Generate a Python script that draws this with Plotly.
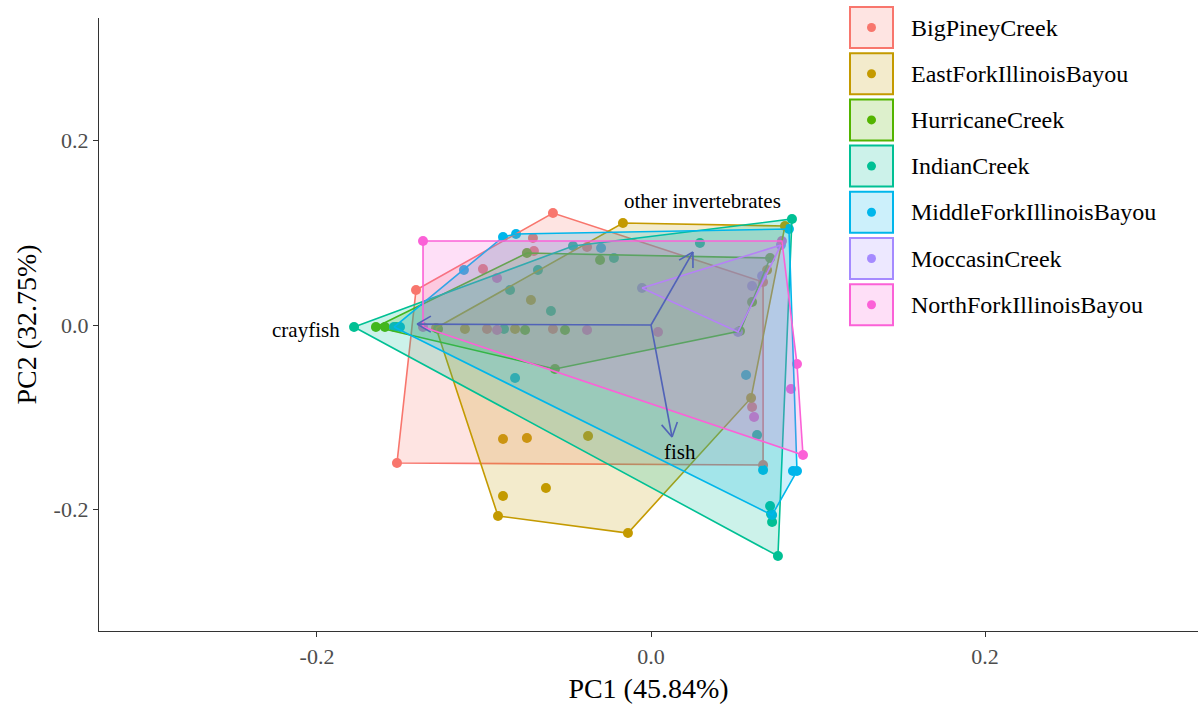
import math
import plotly.graph_objects as go

# ---------------- data ----------------
groups = ["BigPineyCreek", "EastForkIllinoisBayou", "HurricaneCreek", "IndianCreek",
          "MiddleForkIllinoisBayou", "MoccasinCreek", "NorthForkIllinoisBayou"]
colors = ["#F8766D", "#C49A00", "#53B400", "#00C094", "#00B6EB", "#A58AFF", "#FB61D7"]

bigpiney_x = [-0.0587, -0.1407, -0.1521, 0.0671, 0.0671, -0.1006, -0.0701, -0.0707, -0.0982, -0.0587, 0.0605, -0.0383]
bigpiney_y = [0.1214, 0.0379, -0.1496, -0.1518, 0.0466, 0.0607, 0.0802, 0.0943, -0.0043, -0.0043, -0.0889, 0.0846]

eastfork_x = [-0.1287, -0.0168, 0.0802, 0.0599, -0.0138, -0.0916, -0.0886, -0.0629, -0.0886, -0.0743, -0.0377, -0.0719, -0.1114, -0.0814, 0.0695]
eastfork_y = [-0.0033, 0.1106, 0.1073, -0.0791, -0.2255, -0.2070, -0.1854, -0.1767, -0.1236, -0.1225, -0.1203, 0.0271, -0.0043, -0.0043, 0.0596]

hurricane_x = [-0.1647, -0.0743, 0.0713, 0.0605, 0.0533, -0.0575, -0.1593, -0.1275, -0.0515, -0.0754, -0.0305]
hurricane_y = [-0.0022, 0.0780, 0.0726, 0.0249, -0.0065, -0.0477, -0.0022, -0.0043, -0.0054, -0.0054, 0.0705]

indian_x = [-0.1778, -0.0467, 0.0844, 0.0760, 0.0713, 0.0719, 0.0725, 0.0293, -0.0599, -0.0844, -0.0677, -0.0222, 0.0635, -0.1527, -0.0880]
indian_y = [-0.0022, 0.0856, 0.1149, -0.2504, -0.1962, -0.2049, -0.2136, 0.0889, 0.0152, 0.0379, 0.0596, 0.0726, -0.1192, -0.0022, -0.0043]

middlefork_x = [-0.1539, -0.1120, -0.0886, -0.0808, 0.0826, 0.0874, 0.0725, 0.0850, 0.0671, -0.0814, 0.0569, -0.0299, -0.1503]
middlefork_y = [-0.0022, 0.0596, 0.0954, 0.0986, 0.1041, -0.1583, -0.2060, -0.1583, -0.1572, -0.0575, -0.0542, 0.0835, -0.0022]

moccasin_x = [-0.0054, 0.0521, 0.0778, 0.0665, 0.0605]
moccasin_y = [0.0401, -0.0076, 0.0867, 0.0531, 0.0423]

northfork_x = [-0.1365, -0.1365, 0.0784, 0.0874, 0.0838, 0.0910, 0.0617, 0.0042, -0.0922, -0.0922, -0.0383]
northfork_y = [0.0911, -0.0022, 0.0911, -0.0423, -0.0694, -0.1409, -0.0997, -0.0076, 0.0509, -0.0054, -0.0054]

group_x = [bigpiney_x, eastfork_x, hurricane_x, indian_x, middlefork_x, moccasin_x, northfork_x]
group_y = [bigpiney_y, eastfork_y, hurricane_y, indian_y, middlefork_y, moccasin_y, northfork_y]

loading_names = ["crayfish", "fish", "other invertebrates"]
loading_x = [-0.1401, 0.0126, 0.0251]
loading_y = [0.0010, -0.1214, 0.0791]
label_x = [-0.2066, 0.0174, 0.0311]
label_y = [-0.0054, -0.1377, 0.1344]

x_title = "PC1 (45.84%)"
y_title = "PC2 (32.75%)"
tick_vals = [-0.2, 0.0, 0.2]
tick_text = ["-0.2", "0.0", "0.2"]

# ---------------- layout constants ----------------
W, H = 1198, 713
ML, MR, MT, MB = 99, 0, 18, 82
X_RANGE = [-0.3305, 0.3275]
Y_RANGE = [-0.3317, 0.3328]
SERIF = "Liberation Serif, Times New Roman, serif"
ARROW_COLOR = "#5163B8"


def rgba(hexc, a):
    h = hexc.lstrip("#")
    r, g, b = int(h[0:2], 16), int(h[2:4], 16), int(h[4:6], 16)
    return f"rgba({r},{g},{b},{a})"


def convex_hull(xs, ys):
    pts = sorted(set(zip(xs, ys)))
    if len(pts) <= 2:
        return pts

    def cross(o, a, b):
        return (a[0] - o[0]) * (b[1] - o[1]) - (a[1] - o[1]) * (b[0] - o[0])

    lower = []
    for p in pts:
        while len(lower) >= 2 and cross(lower[-2], lower[-1], p) <= 0:
            lower.pop()
        lower.append(p)
    upper = []
    for p in reversed(pts):
        while len(upper) >= 2 and cross(upper[-2], upper[-1], p) <= 0:
            upper.pop()
        upper.append(p)
    return lower[:-1] + upper[:-1]


fig = go.Figure()

# points first (hulls are drawn over them)
for name, col, xs, ys in zip(groups, colors, group_x, group_y):
    fig.add_trace(go.Scatter(x=xs, y=ys, mode="markers", name=name,
                             marker=dict(color=col, size=10, line=dict(width=0)),
                             showlegend=False, hoverinfo="skip"))

# hulls
for name, col, xs, ys in zip(groups, colors, group_x, group_y):
    hull = convex_hull(xs, ys)
    hx = [p[0] for p in hull] + [hull[0][0]]
    hy = [p[1] for p in hull] + [hull[0][1]]
    fig.add_trace(go.Scatter(x=hx, y=hy, mode="lines", fill="toself",
                             fillcolor=rgba(col, 0.2), line=dict(color=col, width=1.6),
                             showlegend=False, hoverinfo="skip"))

# loading arrows
plot_w = W - ML - MR
plot_h = H - MT - MB
sx = plot_w / (X_RANGE[1] - X_RANGE[0])
sy = plot_h / (Y_RANGE[1] - Y_RANGE[0])
head_len = 16.0
half_ang = math.radians(30)
ax_list, ay_list = [], []
for lx, ly in zip(loading_x, loading_y):
    ax_list += [0, lx, None]
    ay_list += [0, ly, None]
    dx, dy = lx * sx, ly * sy
    ang = math.atan2(dy, dx)
    for s in (1, -1):
        a = ang + math.pi + s * half_ang
        hx = lx + head_len * math.cos(a) / sx
        hy = ly + head_len * math.sin(a) / sy
        ax_list += [lx, hx, None]
        ay_list += [ly, hy, None]
fig.add_trace(go.Scatter(x=ax_list, y=ay_list, mode="lines",
                         line=dict(color=ARROW_COLOR, width=1.6),
                         showlegend=False, hoverinfo="skip"))

annotations = []
for t, x, y in zip(loading_names, label_x, label_y):
    annotations.append(dict(x=x, y=y, xref="x", yref="y", text=t, showarrow=False,
                            xanchor="center", yanchor="middle",
                            font=dict(family=SERIF, size=21, color="black")))

# manual ggplot-style legend
shapes = []


def px2paper_x(px):
    return (px - ML) / plot_w


def px2paper_y(py):
    return (H - MB - py) / plot_h


box_l, box_r = 850, 893
top0, step, box_h = 7, 46.2, 41
for i, (name, col) in enumerate(zip(groups, colors)):
    t = top0 + step * i
    b = t + box_h
    shapes.append(dict(type="rect", xref="paper", yref="paper",
                       x0=px2paper_x(box_l), x1=px2paper_x(box_r),
                       y0=px2paper_y(b), y1=px2paper_y(t),
                       fillcolor=rgba(col, 0.2), line=dict(color=col, width=2),
                       layer="above"))
    cx, cy, r = (box_l + box_r) / 2, (t + b) / 2, 4.5
    shapes.append(dict(type="circle", xref="paper", yref="paper",
                       x0=px2paper_x(cx - r), x1=px2paper_x(cx + r),
                       y0=px2paper_y(cy + r), y1=px2paper_y(cy - r),
                       fillcolor=col, line=dict(color=col, width=0), layer="above"))
    annotations.append(dict(x=px2paper_x(909), y=px2paper_y(cy), xref="paper", yref="paper",
                            text=name, showarrow=False, xanchor="left", yanchor="middle",
                            font=dict(family=SERIF, size=24, color="black")))

fig.update_layout(
    width=W, height=H,
    margin=dict(l=ML, r=MR, t=MT, b=MB),
    plot_bgcolor="white", paper_bgcolor="white",
    showlegend=False,
    font=dict(family=SERIF),
    annotations=annotations,
    shapes=shapes,
    xaxis=dict(range=X_RANGE, showgrid=False, zeroline=False, showline=True,
               linecolor="#333333", linewidth=1.4, ticks="outside", ticklen=5,
               tickwidth=1.4, tickcolor="#333333", tickvals=tick_vals, ticktext=tick_text,
               tickfont=dict(family=SERIF, size=22, color="#4D4D4D"),
               title=dict(text=x_title, font=dict(family=SERIF, size=28, color="black"), standoff=10)),
    yaxis=dict(range=Y_RANGE, showgrid=False, zeroline=False, showline=True,
               linecolor="#333333", linewidth=1.4, ticks="outside", ticklen=5,
               tickwidth=1.4, tickcolor="#333333", tickvals=tick_vals, ticktext=tick_text,
               tickfont=dict(family=SERIF, size=22, color="#4D4D4D"),
               title=dict(text=y_title, font=dict(family=SERIF, size=28, color="black"), standoff=8)),
)

fig.write_html("out.html")
